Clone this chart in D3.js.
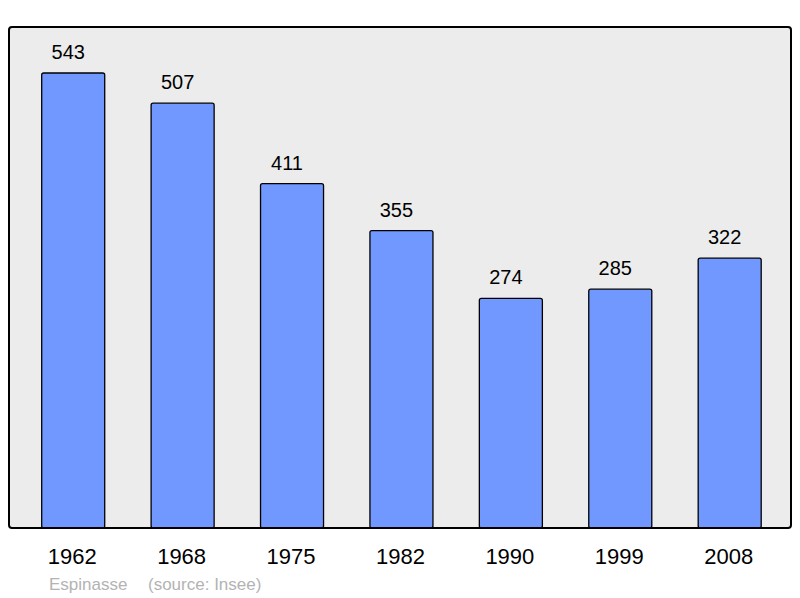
<!DOCTYPE html>
<html>
<head>
<meta charset="utf-8">
<script src="https://cdn.jsdelivr.net/npm/d3@7"></script>
<style>
  body { margin: 0; background: #fff; }
  svg { display: block; font-family: "Liberation Sans", Arial, sans-serif; }
</style>
</head>
<body>
<div class="chart"></div>
<script>
const years = ["1962", "1968", "1975", "1982", "1990", "1999", "2008"];
const population = [543, 507, 411, 355, 274, 285, 322];
const commune = "Espinasse";
const source = "(source: Insee)";

const width = 800;
const height = 598;
const frame = { left: 9, top: 27, right: 791, bottom: 528 };

const svg = d3.select(".chart")
    .append("svg")
    .attr("width", width)
    .attr("height", height);

// plot background
svg.append("rect")
    .attr("x", frame.left)
    .attr("y", frame.top)
    .attr("width", frame.right - frame.left)
    .attr("height", frame.bottom - frame.top)
    .attr("rx", 3)
    .attr("fill", "#ececec");

const xScale = d3.scaleBand()
    .domain(years)
    .range([18.5, 784.4])
    .paddingInner(0.424)
    .paddingOuter(0.212);

const yScale = d3.scaleLinear()
    .domain([0, 600])
    .range([frame.bottom, frame.bottom - 600 * 455 / 543]);

const data = years.map((y, i) => ({ year: y, value: population[i] }));

svg.append("g")
    .selectAll("rect")
    .data(data)
    .enter()
    .append("rect")
    .attr("x", d => xScale(d.year))
    .attr("y", d => yScale(d.value))
    .attr("width", xScale.bandwidth())
    .attr("height", d => yScale(0) - yScale(d.value))
    .attr("rx", 2)
    .attr("fill", "#7098ff")
    .attr("stroke", "#000")
    .attr("stroke-width", 1.3);

// value labels (sit a bit left of the bar centre, like the original)
svg.append("g")
    .selectAll("text")
    .data(data)
    .enter()
    .append("text")
    .attr("x", d => xScale(d.year) + xScale.bandwidth() / 2 - 5)
    .attr("y", d => yScale(d.value) - 14)
    .attr("text-anchor", "middle")
    .attr("font-size", 20)
    .attr("fill", "#000")
    .text(d => d.value);

// frame on top so the bar bottoms sit on it
svg.append("rect")
    .attr("x", frame.left)
    .attr("y", frame.top)
    .attr("width", frame.right - frame.left)
    .attr("height", frame.bottom - frame.top)
    .attr("rx", 3)
    .attr("fill", "none")
    .attr("stroke", "#000")
    .attr("stroke-width", 2);

// year labels
svg.append("g")
    .selectAll("text")
    .data(years)
    .enter()
    .append("text")
    .attr("x", d => xScale(d) + xScale.bandwidth() / 2 - 1)
    .attr("y", 564)
    .attr("text-anchor", "middle")
    .attr("font-size", 22)
    .attr("fill", "#000")
    .text(d => d);

svg.append("text")
    .attr("x", 49)
    .attr("y", 590)
    .attr("font-size", 17)
    .attr("fill", "#b3b3b3")
    .text(commune);

svg.append("text")
    .attr("x", 148)
    .attr("y", 590)
    .attr("font-size", 17)
    .attr("fill", "#b3b3b3")
    .text(source);
</script>
</body>
</html>
